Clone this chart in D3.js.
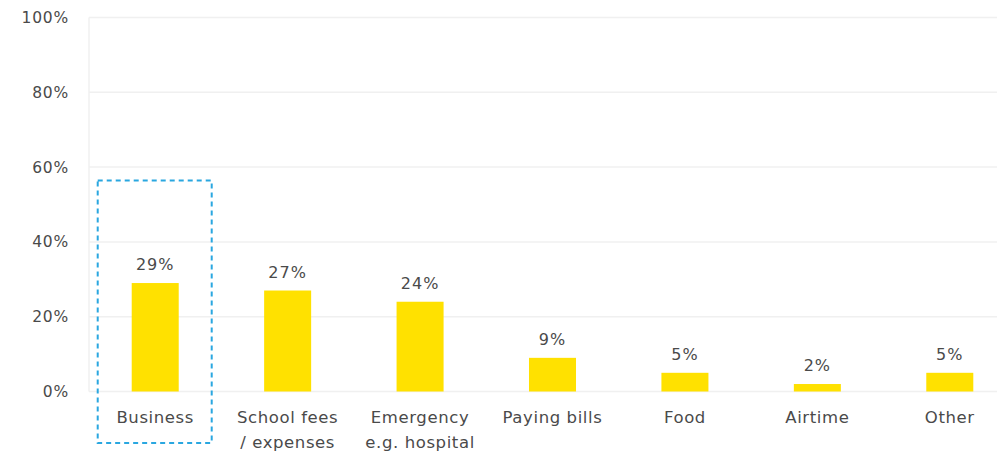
<!DOCTYPE html>
<html>
<head>
<meta charset="utf-8">
<script src="https://cdn.jsdelivr.net/npm/d3@7"></script>
<style>
  html, body { margin: 0; padding: 0; background: #fff; }
  svg { display: block; }
  text { font-family: "DejaVu Sans", "Lato", sans-serif; fill: #4a4a4a; }
</style>
</head>
<body>
<div id="chart"></div>
<script>
// Uses of money, share of respondents
const categories = ["Business", "School fees\n/ expenses", "Emergency\ne.g. hospital", "Paying bills", "Food", "Airtime", "Other"];
const values = [29, 27, 24, 9, 5, 2, 5];
const valueLabels = ["29%", "27%", "24%", "9%", "5%", "2%", "5%"];
const yTicks = [0, 20, 40, 60, 80, 100];
const highlighted = ["Business"];

const width = 997, height = 454;
const plot = { left: 89, right: 1016, top: 17.5, bottom: 391.5 };

const svg = d3.select("#chart").append("svg")
  .attr("width", width).attr("height", height);

const x = d3.scaleBand()
  .domain(categories)
  .range([plot.left, plot.right])
  .paddingInner(0.645)
  .paddingOuter(0.3225);

const y = d3.scaleLinear()
  .domain([0, 100])
  .range([plot.bottom, plot.top]);

// Horizontal gridlines
svg.append("g")
  .selectAll("line")
  .data(yTicks)
  .join("line")
  .attr("x1", plot.left).attr("x2", width)
  .attr("y1", d => y(d)).attr("y2", d => y(d))
  .attr("stroke", "#f0f0f0").attr("stroke-width", 1.5);

// Left frame line
svg.append("line")
  .attr("x1", plot.left).attr("x2", plot.left)
  .attr("y1", y(100)).attr("y2", y(0))
  .attr("stroke", "#f0f0f0").attr("stroke-width", 1.5);

// Y axis labels
const yAxis = d3.axisLeft(y)
  .tickValues(yTicks)
  .tickFormat(d => d + "%")
  .tickSize(0)
  .tickPadding(0);
const yg = svg.append("g")
  .attr("transform", `translate(${plot.left - 20},0)`)
  .call(yAxis);
yg.select(".domain").remove();
yg.selectAll("text")
  .attr("font-size", 15.5)
  .attr("letter-spacing", 0.8)
  .attr("font-family", "DejaVu Sans, sans-serif")
  .attr("fill", "#4a4a4a");

// Bars
svg.append("g")
  .selectAll("rect")
  .data(values)
  .join("rect")
  .attr("x", (d, i) => x(categories[i]))
  .attr("y", d => y(d))
  .attr("width", x.bandwidth())
  .attr("height", d => y(0) - y(d))
  .attr("fill", "#ffe100");

// Value labels
svg.append("g")
  .selectAll("text")
  .data(values)
  .join("text")
  .attr("x", (d, i) => x(categories[i]) + x.bandwidth() / 2)
  .attr("y", d => y(d) - 13)
  .attr("text-anchor", "middle")
  .attr("font-size", 16)
  .attr("letter-spacing", 1)
  .text((d, i) => valueLabels[i]);

// Category labels (x axis)
const xg = svg.append("g");
categories.forEach(c => {
  const t = xg.append("text")
    .attr("x", x(c) + x.bandwidth() / 2)
    .attr("y", y(0) + 31)
    .attr("text-anchor", "middle")
    .attr("font-size", 16.5)
    .attr("letter-spacing", 0.6);
  c.split("\n").forEach((line, k) => {
    t.append("tspan")
      .attr("x", x(c) + x.bandwidth() / 2)
      .attr("dy", k === 0 ? 0 : 25)
      .text(line);
  });
});

// Dashed highlight box around the selected category
svg.append("g")
  .selectAll("rect")
  .data(highlighted)
  .join("rect")
  .attr("x", d => x(d) + x.bandwidth() / 2 - 57.5)
  .attr("y", y(56.4))
  .attr("width", 114)
  .attr("height", height - 11 - y(56.4))
  .attr("fill", "none")
  .attr("stroke", "#2aa7e0")
  .attr("stroke-width", 2)
  .attr("stroke-dasharray", "5,4");
</script>
</body>
</html>
